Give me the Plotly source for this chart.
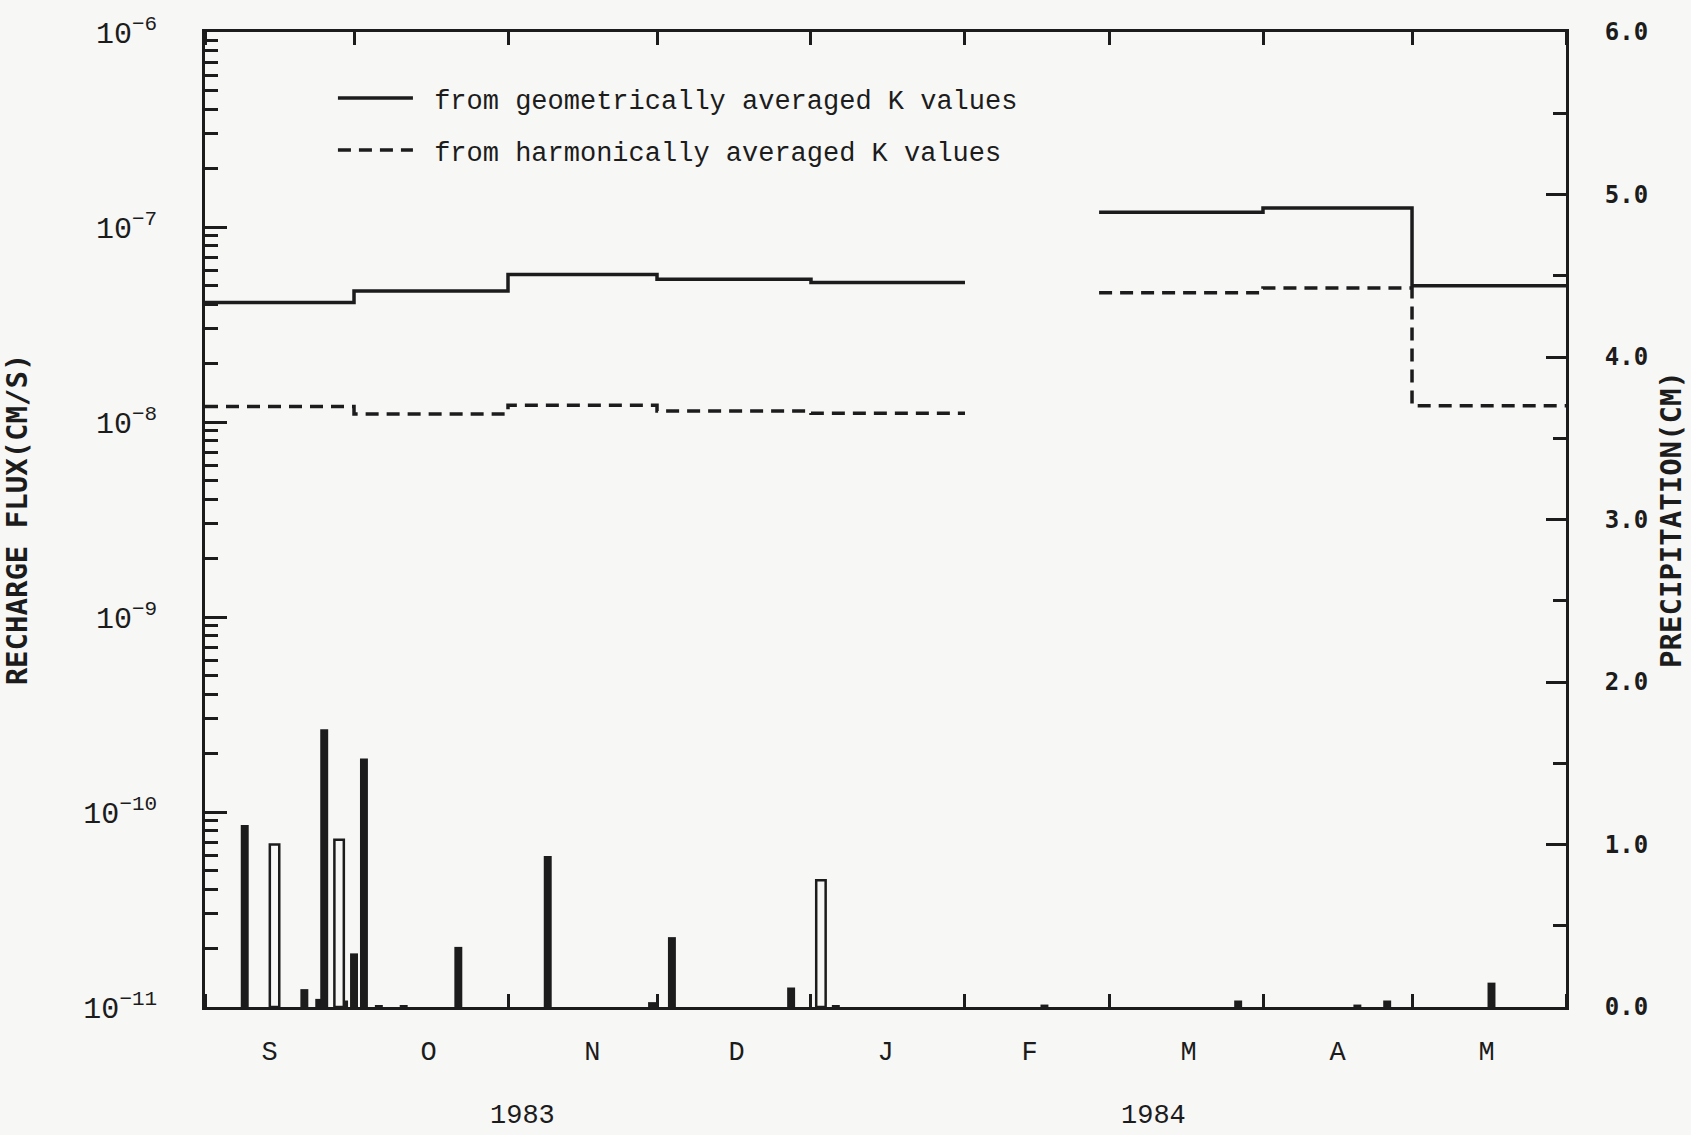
import plotly.graph_objects as go

# ---------------- data ----------------
# Recharge flux step series (cm/s); each segment: period starts + segment end
seg1_starts = ["1983-09-01", "1983-10-01", "1983-11-01", "1983-12-01", "1984-01-01"]
seg1_end = "1984-02-01"
seg2_starts = ["1984-02-28", "1984-04-01", "1984-05-01"]
seg2_end = "1984-06-01"

geo_seg1 = [4.1e-8, 4.7e-8, 5.7e-8, 5.4e-8, 5.2e-8]
geo_seg2 = [1.19e-7, 1.25e-7, 5.0e-8]
harm_seg1 = [1.20e-8, 1.10e-8, 1.22e-8, 1.14e-8, 1.11e-8]
harm_seg2 = [4.6e-8, 4.86e-8, 1.21e-8]

# Daily precipitation (cm)
precip_dates_filled = ["1983-09-09", "1983-09-21", "1983-09-24", "1983-09-25", "1983-09-29",
                       "1983-10-01", "1983-10-03", "1983-10-06", "1983-10-11", "1983-10-22",
                       "1983-11-09", "1983-11-30", "1983-12-04", "1983-12-28", "1984-01-06",
                       "1984-02-17", "1984-03-27", "1984-04-20", "1984-04-26", "1984-05-17"]
precip_filled = [1.12, 0.11, 0.05, 1.71, 0.04,
                 0.33, 1.53, 0.01, 0.01, 0.37,
                 0.93, 0.03, 0.43, 0.12, 0.01,
                 0.015, 0.04, 0.015, 0.04, 0.15]
precip_dates_open = ["1983-09-15", "1983-09-28", "1984-01-03"]
precip_open = [1.00, 1.03, 0.78]

# Axis labels
month_label_dates = ["1983-09-14", "1983-10-16", "1983-11-18", "1983-12-17", "1984-01-16",
                     "1984-02-14", "1984-03-17", "1984-04-16", "1984-05-16"]
month_letters = ["S", "O", "N", "D", "J", "F", "M", "A", "M"]
month_starts = ["1983-09-01", "1983-10-01", "1983-11-01", "1983-12-01", "1984-01-01",
                "1984-02-01", "1984-03-01", "1984-04-01", "1984-05-01", "1984-06-01"]
year_labels = ["1983", "1984"]
year_label_dates = ["1983-11-04", "1984-03-10"]
series_names = ["from geometrically averaged K values", "from harmonically averaged K values"]

# ---------------- styling ----------------
INK = "#1c1c1c"
BG = "#f7f7f6"
MONO = "Liberation Mono, Courier New, monospace"
BOLD = "DejaVu Sans Mono, monospace"
DAY_MS = 86400000
NB = "\u00a0"  # small visual gap between legend sample and text


def steps(starts1, vals1, end1, starts2, vals2, end2):
    x = list(starts1) + [end1, None] + list(starts2) + [end2]
    y = list(vals1) + [vals1[-1], None] + list(vals2) + [vals2[-1]]
    return x, y


gx, gy = steps(seg1_starts, geo_seg1, seg1_end, seg2_starts, geo_seg2, seg2_end)
hx, hy = steps(seg1_starts, harm_seg1, seg1_end, seg2_starts, harm_seg2, seg2_end)

fig = go.Figure()

fig.add_trace(go.Bar(
    x=precip_dates_filled, y=precip_filled, yaxis="y2",
    width=[1.6 * DAY_MS] * len(precip_filled),
    marker=dict(color=INK, line=dict(width=0)),
    showlegend=False, hoverinfo="skip"))
fig.add_trace(go.Bar(
    x=precip_dates_open, y=precip_open, yaxis="y2",
    width=[1.9 * DAY_MS] * len(precip_open),
    marker=dict(color=BG, line=dict(color=INK, width=2.5)),
    showlegend=False, hoverinfo="skip"))

fig.add_trace(go.Scatter(
    x=gx, y=gy, mode="lines", line=dict(color=INK, width=3.5, shape="hv"),
    name=NB + series_names[0], legendgroup="g",
    connectgaps=False))
fig.add_trace(go.Scatter(
    x=hx, y=hy, mode="lines", line=dict(color=INK, width=3.5, shape="hv", dash="13px,8px"),
    name=NB + series_names[1], legendgroup="h",
    connectgaps=False))

annotations = []
for t, d in zip(year_labels, year_label_dates):
    annotations.append(dict(text=t, x=d, xref="x", y=-0.112, yref="paper",
                            showarrow=False, xanchor="center", yanchor="middle",
                            font=dict(family=MONO, size=27, color=INK)))

fig.update_layout(
    width=1691, height=1135,
    margin=dict(l=205, r=125, t=32, b=128, autoexpand=False),
    paper_bgcolor=BG, plot_bgcolor=BG,
    barmode="overlay",
    showlegend=True,
    legend=dict(x=0.094, y=0.957, xanchor="left", yanchor="top",
                bgcolor="rgba(0,0,0,0)", font=dict(family=MONO, size=27, color=INK),
                tracegroupgap=14, traceorder="grouped", itemwidth=75),
    xaxis=dict(
        type="date", range=["1983-09-01", "1984-06-01"],
        tickmode="array", tickvals=month_label_dates, ticktext=month_letters,
        ticks="", showline=True, linecolor=INK, linewidth=3, mirror="ticks",
        showgrid=False, zeroline=False,
        tickfont=dict(family=MONO, size=27, color=INK), ticklabelstandoff=18,
        minor=dict(tickmode="array", tickvals=month_starts, ticks="inside",
                   ticklen=13, tickwidth=3, tickcolor=INK, showgrid=False),
    ),
    yaxis=dict(
        type="log", range=[-11, -6], dtick=1, exponentformat="power",
        ticks="inside", ticklen=22, tickwidth=3, tickcolor=INK,
        showline=True, linewidth=3, linecolor=INK, showgrid=False, zeroline=False,
        tickfont=dict(family=MONO, size=24, color=INK), ticklabelstandoff=40,
        minor=dict(ticks="inside", ticklen=13, tickwidth=2.5, tickcolor=INK, showgrid=False),
        title=dict(text="<b>RECHARGE FLUX(CM/S)</b>", font=dict(family=BOLD, size=29, color=INK),
                   standoff=55),
    ),
    yaxis2=dict(
        overlaying="y", side="right", anchor="x", range=[0, 6], dtick=1, tickformat=".1f",
        ticks="inside", ticklen=20, tickwidth=3, tickcolor=INK,
        showline=True, linewidth=3, linecolor=INK, showgrid=False, zeroline=False,
        tickfont=dict(family=BOLD, size=24, color=INK, weight="bold"), ticklabelstandoff=31,
        minor=dict(dtick=0.5, ticks="inside", ticklen=13, tickwidth=3, tickcolor=INK, showgrid=False),
        title=dict(text="<b>PRECIPITATION(CM)</b>", font=dict(family=BOLD, size=29, color=INK),
                   standoff=14),
    ),
    annotations=annotations,
)

fig.write_html("out.html",
               config={"displayModeBar": False},
               post_script="document.body.style.margin='0';document.body.style.overflow='hidden';")
